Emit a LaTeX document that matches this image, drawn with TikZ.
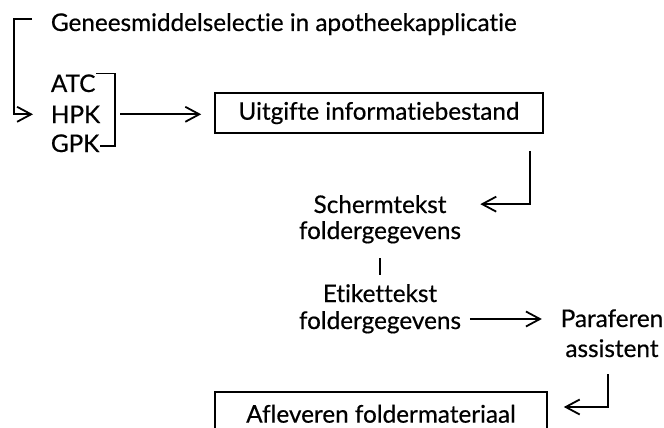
\documentclass[tikz,border=0pt]{standalone}
\usepackage{fontspec}
\setmainfont{Lato}[Ligatures=NoCommon,FakeBold=0.5]
\usetikzlibrary{arrows.meta}

\begin{document}
\begin{tikzpicture}[x=1pt,y=-1pt,line width=1.8pt,
    >={Straight Barb[length=14pt,width=15pt]},
    font=\fontsize{24.3}{29}\selectfont,
    txt/.style={inner sep=0pt,anchor=base},
    box/.style={draw,inner sep=0pt,line width=1.6pt}]
    % Fix the page size
    \useasboundingbox (0,0) rectangle (664,428);
    \clip (0,0) rectangle (664,428);

    % Bend points of the connectors
    \coordinate (r1) at (530,0);
    \coordinate (r2) at (608,0);

    % Draw selection texts
    \node[txt,anchor=base west] (title) at (50,31) {Geneesmiddelselectie in apotheekapplicatie};
    \node[txt,anchor=base west] (atc) at (50,92) {ATC};
    \node[txt,anchor=base west] (hpk) at (50,123) {HPK};
    \node[txt,anchor=base west] (gpk) at (50,152) {GPK};

    % Draw boxes
    \node[box,minimum width=328pt,minimum height=40pt] (uitgifte) at (379,113) {Uitgifte informatiebestand};
    \node[box,anchor=north,minimum width=332pt,minimum height=44pt] (aflev) at (381,391) {Afleveren foldermateriaal};

    % Draw folder texts
    \node[txt] (scherm) at (380,213) {Schermtekst};
    \node[txt] (fold1) at (380,239) {foldergegevens};
    \node[txt] (etiket) at (380,302) {Etikettekst};
    \node[txt] (fold2) at (380,329) {foldergegevens};
    \node[txt] (para) at (612,327) {Paraferen};
    \node[txt] (assist) at (612,357) {assistent};

    % Draw connectors
    \draw[->,shorten <=18pt,shorten >=17pt] ([yshift=5pt]title.west) -- ++(-36,0) |- (hpk.west);
    \draw (atc.north east) -- ++(19,0) coordinate (brk) |- ([yshift=6pt]gpk.base east);
    \draw[->,shorten <=5pt,shorten >=13pt] (brk |- hpk.east) -- (uitgifte.west |- hpk.east);
    \draw[->,shorten <=17pt,shorten >=33pt] (uitgifte.south -| r1) |- (scherm.east);
    \draw[shorten <=14pt,shorten >=8pt] (fold1.south) -- (etiket.north);
    \coordinate (m) at ([yshift=10pt]fold2.base east);
    \draw[->,shorten <=8pt,shorten >=18pt] (m) -- (m -| para.west);
    \draw[->,shorten <=16pt,shorten >=16pt] (assist.south -| r2) |- ([yshift=-16pt]aflev.north east);
\end{tikzpicture}
\end{document}
